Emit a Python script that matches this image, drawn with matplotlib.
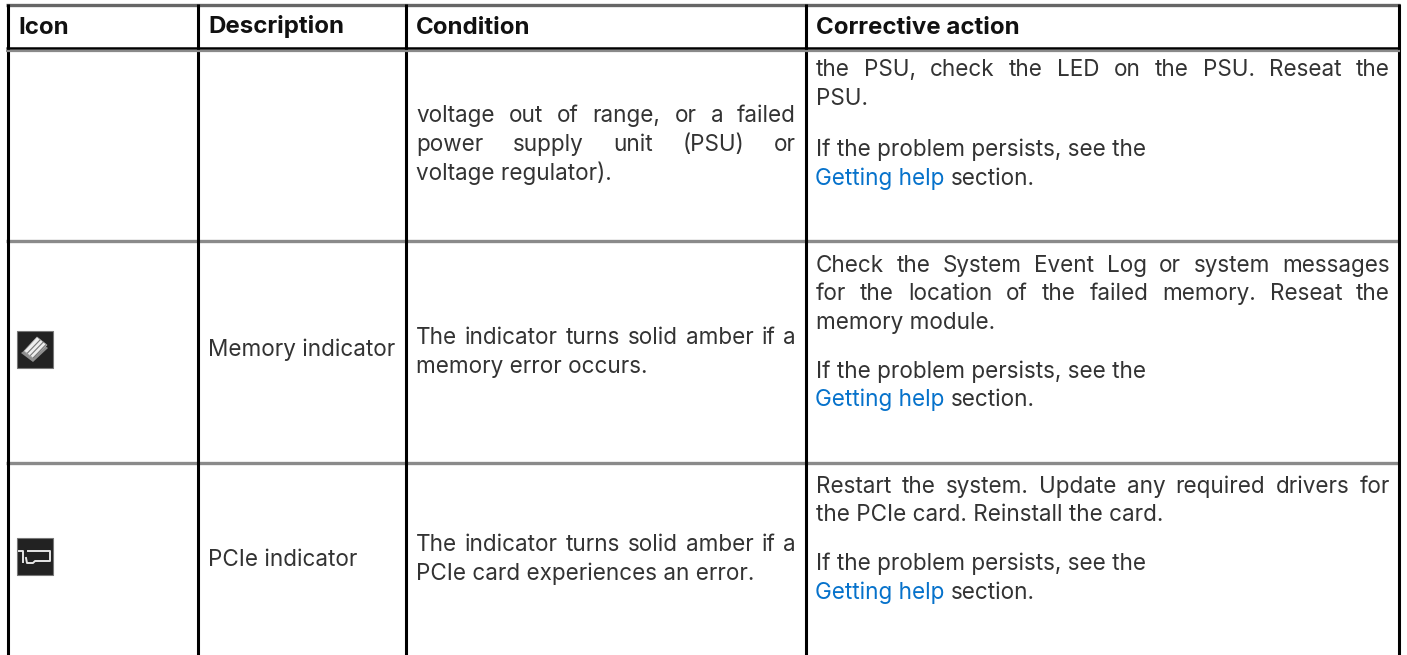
import matplotlib
matplotlib.use("Agg")
import matplotlib.pyplot as plt
from matplotlib.patches import Rectangle, Polygon

W, H = 1407, 655
FONT = "Inter"
FS = 16.2
FS_HEAD = 17.3
TXT = "#333333"
LINK = "#0672CB"

headers = ["Icon", "Description", "Condition", "Corrective action"]
header_x = [18, 208, 416, 816]
col_lines = [7.5, 198, 406, 806, 1398.5]
row_lines = [241, 463]

descriptions = [("Memory indicator", 356), ("PCIe indicator", 566)]

# words of a line, baseline row, justified?
condition_lines = [
    (["voltage", "out", "of", "range,", "or", "a", "failed"], 122, True),
    (["power", "supply", "unit", "(PSU)", "or"], 151, True),
    (["voltage regulator)."], 180, False),
    (["The", "indicator", "turns", "solid", "amber", "if", "a"], 344, True),
    (["memory error occurs."], 373, False),
    (["The", "indicator", "turns", "solid", "amber", "if", "a"], 551, True),
    (["PCIe card experiences an error."], 580, False),
]
action_lines = [
    (["the", "PSU,", "check", "the", "LED", "on", "the", "PSU.", "Reseat", "the"], 76, True),
    (["PSU."], 105, False),
    (["If the problem persists, see the"], 156, False),
    (["Check", "the", "System", "Event", "Log", "or", "system", "messages"], 272, True),
    (["for", "the", "location", "of", "the", "failed", "memory.", "Reseat", "the"], 300, True),
    (["memory module."], 329, False),
    (["If the problem persists, see the"], 378, False),
    (["Restart", "the", "system.", "Update", "any", "required", "drivers", "for"], 493, True),
    (["the PCIe card. Reinstall the card."], 521, False),
    (["If the problem persists, see the"], 570, False),
]
link_rows = [185, 406, 599]

fig = plt.figure(figsize=(W / 100, H / 100), dpi=100)
ax = fig.add_axes([0, 0, 1, 1])
ax.set_xlim(0, W)
ax.set_ylim(H, 0)
ax.axis("off")


def put(x, y, s, color=TXT, **kw):
    return ax.text(x, y, s, fontsize=kw.pop("fontsize", FS), family=FONT, color=color, va="baseline", **kw)


def justified(words, x0, x1, y):
    pieces = [put(x0, y, w) for w in words]
    fig.canvas.draw()
    r = fig.canvas.get_renderer()
    widths = [p.get_window_extent(r).width for p in pieces]
    gap = (x1 - x0 - sum(widths)) / (len(pieces) - 1)
    x = x0
    for p, wd in zip(pieces, widths):
        p.set_x(x)
        x += wd + gap


def block(lines, x0, x1):
    for words, y, just in lines:
        if just:
            justified(words, x0, x1, y)
        else:
            put(x0, y, words[0])


for h, x in zip(headers, header_x):
    put(x, 33.5, h, color="#111111", weight="bold", fontsize=FS_HEAD)
for t, y in descriptions:
    put(208, y, t)
block(condition_lines, 416, 796)
block(action_lines, 816, 1390)

for y in link_rows:
    t = put(815, y, "Getting help", color=LINK)
    fig.canvas.draw()
    ext = t.get_window_extent(fig.canvas.get_renderer())
    put(ext.x1 + 6, y, "section.")

# grid
for x in col_lines:
    ax.plot([x, x], [4, H], color="black", lw=2.2, solid_capstyle="butt", zorder=3)
ax.plot([6, 1400], [5, 5], color="#666666", lw=2.4, solid_capstyle="butt", zorder=2)
ax.plot([6, 1400], [47.5, 47.5], color="black", lw=1.8, solid_capstyle="butt", zorder=4)
ax.plot([6, 1400], [50.5, 50.5], color="#8a8a8a", lw=1.6, solid_capstyle="butt", zorder=4)
for y in row_lines:
    ax.plot([6, 1400], [y, y], color="#8a8a8a", lw=2.4, solid_capstyle="butt", zorder=2)

# icons
for (x0, y0) in [(17, 331), (17, 538)]:
    ax.add_patch(Rectangle((x0, y0), 36, 36.5, facecolor="#222222", edgecolor="#777777", lw=0.8, zorder=4))
# memory module: tray, bright slab, dark grooves
ax.add_patch(Polygon([(21, 353), (33, 362), (48, 348), (44, 345), (32, 356), (25, 350)],
                     facecolor="#8f8f8f", edgecolor="none", zorder=5))
ax.add_patch(Polygon([(24, 351), (37, 337), (47, 345), (33, 358)],
                     facecolor="#eeeeee", edgecolor="#aaaaaa", lw=0.5, zorder=6))
for d in (0, 1, 2):
    ax.plot([27.5 + 3 * d, 40 + 3 * d], [353 + 2.3 * d, 340 + 2.3 * d], color="#777777", lw=0.8, zorder=7)
# PCIe card: "1" and outlined card
ax.plot([19, 23, 23], [551, 551, 562], color="#e6e6e6", lw=1.4, zorder=5)
ax.plot([28, 50, 50, 35, 33, 27, 26], [551, 551, 561, 561, 563, 563, 558],
        color="#e6e6e6", lw=1.4, zorder=5)

fig.savefig("out.png", dpi=100)
